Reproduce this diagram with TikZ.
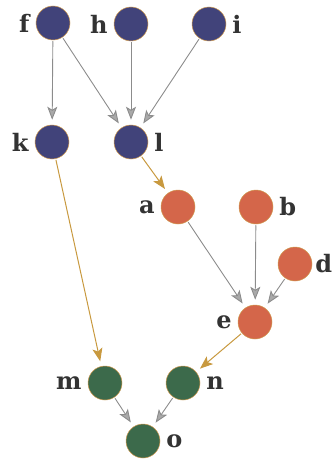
\documentclass[tikz,border=0pt]{standalone}
\usepackage{fontspec}
\setmainfont{DejaVu Serif}
\usetikzlibrary{arrows.meta}
\definecolor{nblue}{HTML}{41437A}
\definecolor{norange}{HTML}{D4664A}
\definecolor{ngreen}{HTML}{3C6A4B}
\definecolor{rimc}{HTML}{D09A50}
\definecolor{egray}{HTML}{8C8C8C}
\definecolor{egold}{HTML}{C8993F}
\definecolor{lblc}{HTML}{333333}
\tikzset{
  vtx/.style={circle, minimum size=34pt, inner sep=0pt, draw=rimc, line width=0.5pt},
  bluev/.style={vtx, fill=nblue},
  orangev/.style={vtx, fill=norange},
  greenv/.style={vtx, fill=ngreen},
  lbl/.style={font=\bfseries\fontsize{24}{24}\selectfont, text=lblc, inner sep=0pt},
  every label/.style={lbl},
  label distance=6pt,
  edgeg/.style={draw=egray, line width=0.9pt, -{Stealth[length=13pt,width=10pt,inset=3pt,fill=egray!75]}, shorten >=5pt, shorten <=1pt},
  edgey/.style={draw=egold, line width=1pt, -{Stealth[length=13pt,width=10pt,inset=3pt,fill=egold]}, shorten >=5pt, shorten <=1pt}
}
\begin{document}
\begin{tikzpicture}[x=1pt,y=-1pt]
\useasboundingbox (0,0) rectangle (333,460);
\node[bluev, label=left:f] (f) at (53,23) {};
\node[bluev, label=left:h] (h) at (131,24) {};
\node[bluev, label=right:i] (i) at (209,24) {};
\node[bluev, label=left:k] (k) at (52,142) {};
\node[bluev, label=right:l] (l) at (131,142) {};
\node[orangev, label=left:a] (a) at (178,207) {};
\node[orangev, label=right:b] (b) at (256,207) {};
\node[orangev, label={[label distance=3pt]right:d}] (d) at (295,264) {};
\node[orangev, label=left:e] (e) at (255,322) {};
\node[greenv, label=left:m] (m) at (105,383) {};
\node[greenv, label=right:n] (n) at (183,383) {};
\node[greenv, label=right:o] (o) at (143,441) {};
\draw[edgeg] (f) -- (k);
\draw[edgeg] (f) -- (l);
\draw[edgeg] (h) -- (l);
\draw[edgeg] (i) -- (l);
\draw[edgey] (l) -- (a);
\draw[edgeg] (a) -- (e);
\draw[edgeg] (b) -- (e);
\draw[edgeg] (d) -- (e);
\draw[edgey] (k) -- (m);
\draw[edgey] (e) -- (n);
\draw[edgeg] (m) -- (o);
\draw[edgeg] (n) -- (o);
\end{tikzpicture}
\end{document}
